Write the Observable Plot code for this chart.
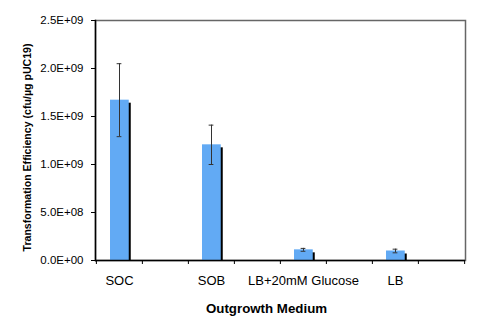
<!DOCTYPE html>
<html>
<head>
<meta charset="utf-8">
<script src="https://cdn.jsdelivr.net/npm/d3@7"></script>
<script src="https://cdn.jsdelivr.net/npm/@observablehq/plot@0.6"></script>
<style>
  html, body { margin: 0; padding: 0; background: #fff; }
  #chart svg { display: block; }
</style>
</head>
<body>
<div id="chart"></div>
<script>
const categories = ["SOC", "SOB", "LB+20mM Glucose", "LB"];
const values = [1.67e9, 1.205e9, 1.11e8, 9.9e7];
const errors = [3.8e8, 2.05e8, 1.5e7, 1.9e7];
const yTicks = [0, 5e8, 1e9, 1.5e9, 2e9, 2.5e9];
const xTitle = "Outgrowth Medium";
const yTitle = "Transformation Efficiency (cfu/µg pUC19)";

const W = 500, H = 325;
const mL = 95, mR = 35, mT = 20, mB = 65;
const slots = categories.flatMap((c, i) => [c, "gap" + i]);
const bw = (W - mL - mR) / slots.length;
const data = categories.map((c, i) => ({name: c, v: values[i], e: errors[i]}));

const fmt = d => {
  const [m, e] = d.toExponential(1).split("e");
  const sign = e[0] === "-" ? "-" : "+";
  const digits = e.replace(/[+-]/, "").padStart(2, "0");
  return m + "E" + sign + digits;
};

const font = "'Liberation Sans', Arial, sans-serif";
const blueL = 14, blueR = bw - 14 - 19;

const chart = Plot.plot({
  width: W, height: H,
  marginLeft: mL, marginRight: mR, marginTop: mT, marginBottom: mB,
  style: {fontFamily: font, fontSize: "11px", color: "#000", background: "#fff"},
  x: {type: "band", domain: slots, paddingInner: 0, paddingOuter: 0, axis: null},
  y: {domain: [0, 2.5e9], axis: null},
  marks: [
    Plot.frame({stroke: "#666", strokeWidth: 1.5}),
    Plot.barY(data, {x: "name", y: "v", fill: "#000", insetLeft: blueL + 2, insetRight: blueR - 2, insetTop: 3}),
    Plot.barY(data, {x: "name", y: "v", fill: "#62aaf4", insetLeft: blueL, insetRight: blueR}),
    Plot.ruleX(data, {x: "name", y1: d => d.v - d.e, y2: d => d.v + d.e, stroke: "#333", strokeWidth: 1}),
    Plot.tickY(data, {x: "name", y: d => d.v + d.e, stroke: "#333", strokeWidth: 1, insetLeft: (bw - 5) / 2, insetRight: (bw - 5) / 2}),
    Plot.tickY(data, {x: "name", y: d => d.v - d.e, stroke: "#333", strokeWidth: 1, insetLeft: (bw - 5) / 2, insetRight: (bw - 5) / 2}),
    Plot.axisY({ticks: yTicks, tickFormat: fmt, tickSize: 4, tickPadding: 8, label: null, stroke: "#000", fontSize: 11.5}),
    Plot.axisX({ticks: categories, tickSize: 0, tickPadding: 15, label: null, fontSize: 13}),
    Plot.axisX({ticks: slots, tickFormat: () => "", tickSize: 4, dx: -bw / 2, label: null, stroke: "#000"}),
    Plot.axisX({ticks: [slots[slots.length - 1]], tickFormat: () => "", tickSize: 4, dx: bw / 2, label: null, stroke: "#000"}),
    Plot.ruleY([0], {stroke: "#000", strokeWidth: 1.5}),
    Plot.frame({anchor: "left", stroke: "#000", strokeWidth: 1.5}),
    Plot.text([xTitle], {text: d => d, frameAnchor: "bottom", lineAnchor: "middle", textAnchor: "middle", dx: -14, dy: 48, fontWeight: "bold", fontSize: 13.3}),
    Plot.text([yTitle], {text: d => d, frameAnchor: "left", textAnchor: "middle", lineAnchor: "middle", dx: -68, dy: 7, rotate: -90, fontWeight: "bold", fontSize: 10.6})
  ]
});
document.getElementById("chart").append(chart);
</script>
</body>
</html>
